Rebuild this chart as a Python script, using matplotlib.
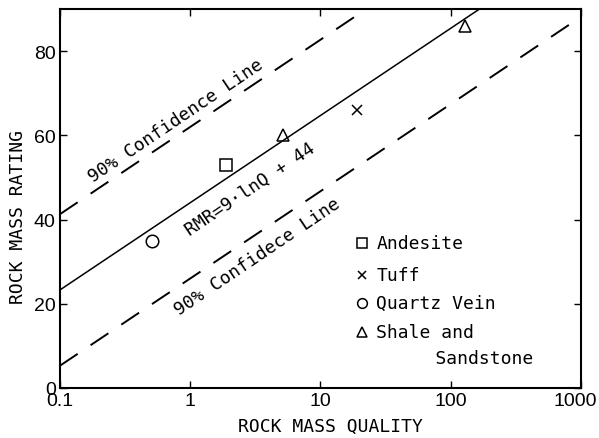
import numpy as np
import matplotlib.pyplot as plt
import matplotlib.transforms as mtransforms

# data
andesite_q = [1.9]
andesite_rmr = [53]
tuff_q = [19]
tuff_rmr = [66]
quartz_q = [0.51]
quartz_rmr = [35]
shale_q = [5.2, 128]
shale_rmr = [60, 86]

# RMR = 9 ln Q + 44, confidence band +/- 18
a, b, band = 9.0, 44.0, 18.0
q = np.logspace(-1, 3, 200)
rmr = a * np.log(q) + b

mono = 'DejaVu Sans Mono'

fig = plt.figure(figsize=(5.99, 4.39), dpi=100)
ax = fig.add_axes([0.1, 0.114, 0.87, 0.863])

ax.plot(q, rmr, color='k', lw=1.1)
l1, = ax.plot(q, rmr + band, color='k', lw=1.4)
l2, = ax.plot(q, rmr - band, color='k', lw=1.4)
l1.set_dashes([11, 8])
l2.set_dashes([11, 8])

ms = 9
ax.plot(andesite_q, andesite_rmr, 's', mfc='none', mec='k', ms=ms, mew=1.1)
ax.plot(tuff_q, tuff_rmr, 'x', color='k', ms=7, mew=1.1)
ax.plot(quartz_q, quartz_rmr, 'o', mfc='none', mec='k', ms=ms, mew=1.1)
ax.plot(shale_q, shale_rmr, '^', mfc='none', mec='k', ms=ms, mew=1.1)

ax.set_xscale('log')
ax.set_xlim(0.1, 1000)
ax.set_ylim(0, 90)
ax.set_xticks([0.1, 1, 10, 100, 1000])
ax.set_xticklabels(['0.1', '1', '10', '100', '1000'])
ax.set_yticks([0, 20, 40, 60, 80])
ax.minorticks_off()
ax.tick_params(direction='in', top=True, right=True, length=5, width=1,
               labelsize=14, pad=3)
for lab in ax.get_xticklabels() + ax.get_yticklabels():
    lab.set_family('Liberation Sans')
last = ax.get_xticklabels()[-1]
last.set_transform(last.get_transform() +
                   mtransforms.ScaledTranslation(-6 / 100, 0, fig.dpi_scale_trans))
for s in ax.spines.values():
    s.set_linewidth(1.5)

ax.set_xlabel('ROCK MASS QUALITY', family=mono, fontsize=13)
ax.set_ylabel('ROCK MASS RATING', family=mono, fontsize=13)
ax.xaxis.set_label_coords(0.52, -0.077)
ax.yaxis.set_label_coords(-0.063, 0.454)

rot = 34
ax.text(0.78, 63.6, '90% Confidence Line', family=mono, fontsize=13,
        rotation=rot, ha='center', va='center', rotation_mode='anchor')
ax.text(2.9, 47.4, 'RMR=9·lnQ + 44', family=mono, fontsize=13,
        rotation=rot, ha='center', va='center', rotation_mode='anchor')
ax.text(3.3, 31.4, '90% Confidece Line', family=mono, fontsize=13,
        rotation=rot, ha='center', va='center', rotation_mode='anchor')

# legend drawn by hand
leg_markers = ['s', 'x', 'o', '^']
leg_labels = ['Andesite', 'Tuff', 'Quartz Vein', 'Shale and\n     Sandstone']
leg_y = [0.383, 0.298, 0.224, 0.148]
line_step = 0.068
for m, lab, y in zip(leg_markers, leg_labels, leg_y):
    if m == 'x':
        ax.plot([0.58], [y], m, color='k', ms=6, mew=1.1, transform=ax.transAxes)
    else:
        ax.plot([0.58], [y], m, mfc='none', mec='k', ms=7, mew=1.1,
                transform=ax.transAxes)
    for i, part in enumerate(lab.split('\n')):
        ax.text(0.607 + 0.01 * i, y - i * line_step, part, family=mono,
                fontsize=13, transform=ax.transAxes, va='center')

fig.savefig('out.png', dpi=100)
